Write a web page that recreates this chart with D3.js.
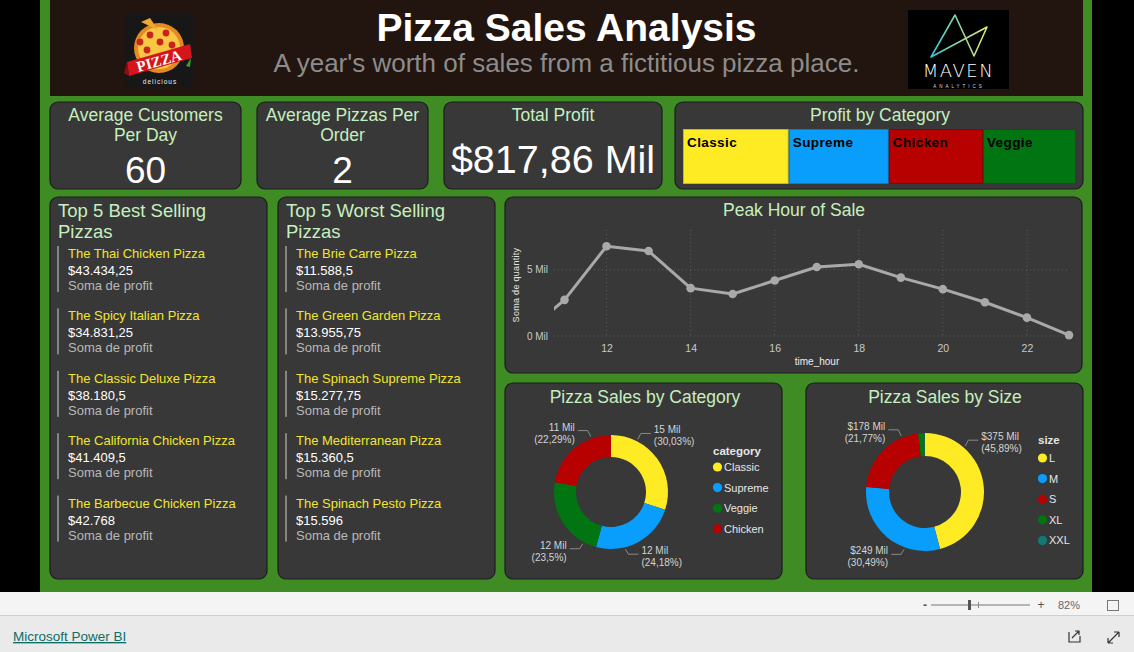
<!DOCTYPE html>
<html><head><meta charset="utf-8">
<script src="https://cdn.jsdelivr.net/npm/d3@7"></script>
<style>
html,body{margin:0;padding:0;background:#000;overflow:hidden;}
svg{display:block;font-family:"Liberation Sans",Arial,sans-serif;}
</style></head><body>
<svg id="c" width="1134" height="652"></svg>
<script>
// ---------------- DATA ----------------
const reportTitle = "Pizza Sales Analysis";
const reportSubtitle = "A year's worth of sales from a fictitious pizza place.";
const kpiTitles = [["Average Customers", "Per Day"], ["Average Pizzas Per", "Order"], ["Total Profit"]];
const kpiValues = ["60", "2", "$817,86 Mil"];
const profitCategories = ["Classic", "Supreme", "Chicken", "Veggie"];
const profitValues = [220053.1, 208197, 195919.5, 193690.45];
const bestPizzas = ["The Thai Chicken Pizza", "The Spicy Italian Pizza", "The Classic Deluxe Pizza", "The California Chicken Pizza", "The Barbecue Chicken Pizza"];
const bestProfit = [43434.25, 34831.25, 38180.5, 41409.5, 42768];
const worstPizzas = ["The Brie Carre Pizza", "The Green Garden Pizza", "The Spinach Supreme Pizza", "The Mediterranean Pizza", "The Spinach Pesto Pizza"];
const worstProfit = [11588.5, 13955.75, 15277.75, 15360.5, 15596];
const hours = [9, 10, 11, 12, 13, 14, 15, 16, 17, 18, 19, 20, 21, 22, 23];
const hourQuantity = [4, 18, 2728, 6776, 6413, 3613, 3170, 4185, 5211, 5417, 4406, 3534, 2545, 1386, 68];
const hourTicks = [12, 14, 16, 18, 20, 22];
const quantityTicks = [0, 5000];
const salesCategories = ["Classic", "Supreme", "Veggie", "Chicken"];
const salesCategoryQuantity = [14888, 11987, 11649, 11050];
const sizes = ["L", "M", "S", "XL", "XXL"];
const sizeRevenue = [375318.7, 249382.25, 178076.5, 14076, 1006.6];

// ---------------- STYLE ----------------
const COL = {Classic:"#FFEB24", Supreme:"#099EFB", Chicken:"#B70000", Veggie:"#007512",
             L:"#FFEB24", M:"#099EFB", S:"#B70000", XL:"#007512", XXL:"#127A72"};
const LG = "#c6efbf", PANEL = "#383838", PSTROKE = "#1d1d1d";
const loc = d3.formatLocale({decimal:",", thousands:".", grouping:[3], currency:["$",""]});
const fmtMoney = loc.format("$,.2~f");
const fmtPct = v => loc.format(".2~f")(v) + "%";

const svg = d3.select("#c");
svg.append("rect").attr("width",1134).attr("height",652).attr("fill","#000");
svg.append("rect").attr("x",40).attr("y",0).attr("width",1052).attr("height",592).attr("fill","#3f8b24");

function panel(x,y,w,h){
  svg.append("rect").attr("x",x).attr("y",y).attr("width",w).attr("height",h)
    .attr("rx",8).attr("fill",PANEL).attr("stroke",PSTROKE).attr("stroke-width",1.2);
}
function txt(x,y,s,size,fill,anchor,weight){
  return svg.append("text").attr("x",x).attr("y",y).text(s).attr("font-size",size)
    .attr("fill",fill).attr("text-anchor",anchor||"start").attr("font-weight",weight||"normal");
}

// ---------------- HEADER ----------------
svg.append("rect").attr("x",50).attr("y",0).attr("width",1033).attr("height",96).attr("fill","#22150f");
txt(566.5,41,reportTitle,39,"#fff","middle","bold");
txt(566.5,72,reportSubtitle,26,"#8c8c8c","middle");

// pizza logo (decorative)
const lg = svg.append("g");
lg.append("rect").attr("x",125).attr("y",14).attr("width",68).attr("height",73).attr("fill","#171717");
lg.append("circle").attr("cx",159).attr("cy",48).attr("r",25).attr("fill","#e58a22");
lg.append("circle").attr("cx",159).attr("cy",48).attr("r",21).attr("fill","#f8c844");
[[150,35],[166,33],[172,45],[147,50],[160,42],[168,58],[152,60],[140,42]].forEach(p=>
  lg.append("circle").attr("cx",p[0]).attr("cy",p[1]).attr("r",3.4).attr("fill","#c8241c"));
lg.append("path").attr("d","M141,22 L150,18 L158,30 Z").attr("fill","#f0a830");
lg.append("path").attr("d","M131,70 L137,64 L139,71 Z M186,66 L191,58 L190,67 Z").attr("fill","#3aa335");
lg.append("polygon").attr("points","127,62 190,44 192,58 129,76").attr("fill","#d5151c");
lg.append("polygon").attr("points","127,62 129,76 124,73").attr("fill","#8e0d10");
lg.append("text").attr("x",159).attr("y",66).attr("text-anchor","middle").attr("font-size",15)
  .attr("font-weight","bold").attr("font-family","'Liberation Serif',serif").attr("fill","#fff")
  .attr("transform","rotate(-16,159,61)").text("PIZZA");
lg.append("text").attr("x",160).attr("y",84).attr("text-anchor","middle").attr("font-size",6.5)
  .attr("fill","#eee").attr("letter-spacing",1).text("delicious");

// maven logo (decorative)
const mv = svg.append("g");
mv.append("rect").attr("x",908).attr("y",10).attr("width",101).attr("height",79).attr("fill","#000");
const gr = svg.append("defs").append("linearGradient").attr("id","mvg").attr("x1","0").attr("x2","1");
gr.append("stop").attr("offset","0").attr("stop-color","#35c6d8");
gr.append("stop").attr("offset","1").attr("stop-color","#e5e86c");
mv.append("path").attr("d","M931,57 L955,15 L974,56 L987,27 Z").attr("fill","none")
  .attr("stroke","url(#mvg)").attr("stroke-width",1.6).attr("stroke-linejoin","round");
mv.append("text").attr("x",958.5).attr("y",77).attr("text-anchor","middle").attr("font-size",18)
  .attr("font-family","'DejaVu Sans',sans-serif").attr("font-weight",200).attr("fill","#fff")
  .attr("letter-spacing",1.5).text("MAVEN");
mv.append("text").attr("x",959).attr("y",87.5).attr("text-anchor","middle").attr("font-size",4.5)
  .attr("fill","#ddd").attr("letter-spacing",3).text("ANALYTICS");

// ---------------- KPI CARDS ----------------
const kpiBoxes = [[50,102,191,87],[257,102,171,87],[444,102,218,87]];
kpiBoxes.forEach((b,i)=>{
  panel(b[0],b[1],b[2],b[3]);
  const cx = b[0]+b[2]/2;
  kpiTitles[i].forEach((t,j)=> txt(cx,121+j*20,t,17.5,LG,"middle"));
  if (i<2) txt(cx,183,kpiValues[i],37,"#fff","middle");
  else txt(cx,173,kpiValues[i],39.5,"#fff","middle");
});

// ---------------- PROFIT BY CATEGORY (treemap) ----------------
panel(675,102,408,87);
txt(880,121,"Profit by Category",17.5,LG,"middle");
const tmRoot = d3.hierarchy({children: profitCategories.map((c,i)=>({name:c, value:profitValues[i]}))})
  .sum(d=>d.value||0).sort((a,b)=>b.value-a.value);
d3.treemap().tile(d3.treemapDice).size([393,55]).padding(0)(tmRoot);
const tm = svg.append("g").attr("transform","translate(683,129)");
tm.selectAll("rect").data(tmRoot.leaves()).join("rect")
  .attr("x",d=>d.x0+0.5).attr("y",d=>d.y0+0.5).attr("width",d=>d.x1-d.x0-1).attr("height",d=>d.y1-d.y0-1)
  .attr("fill",d=>COL[d.data.name]).attr("stroke",d=>d3.color(COL[d.data.name]).darker(0.7)).attr("stroke-width",1);
tm.selectAll("text").data(tmRoot.leaves()).join("text")
  .attr("x",d=>d.x0+4).attr("y",d=>d.y0+18).attr("font-size",13.5).attr("font-weight","bold")
  .attr("letter-spacing",0.4).attr("fill","#000").text(d=>d.data.name);

// ---------------- TOP 5 LISTS ----------------
function topList(px, title, names, vals){
  panel(px,197,217,382);
  txt(px+8,217,title[0],18.5,LG);
  txt(px+8,238,title[1],18.5,LG);
  names.forEach((n,i)=>{
    const by = 258 + i*62.4;
    svg.append("rect").attr("x",px+7).attr("y",by-12).attr("width",2).attr("height",46).attr("fill","#858585");
    txt(px+18,by,n,13,"#f1e62c");
    txt(px+18,by+17,fmtMoney(vals[i]),13,"#fff");
    txt(px+18,by+32,"Soma de profit",13,"#b9b9b9");
  });
}
topList(50,["Top 5 Best Selling","Pizzas"],bestPizzas,bestProfit);
topList(278,["Top 5 Worst Selling","Pizzas"],worstPizzas,worstProfit);

// ---------------- PEAK HOUR LINE ----------------
panel(505,197,577,176);
txt(794,216,"Peak Hour of Sale",17.5,LG,"middle");
const x = d3.scaleLinear().domain([10.75,23]).range([554,1069]);
const y = d3.scaleLinear().domain([0,8000]).range([336,230]);
const grid = svg.append("g");
grid.selectAll(".vg").data(hourTicks).join("line").attr("x1",d=>x(d)).attr("x2",d=>x(d))
  .attr("y1",230).attr("y2",336).attr("stroke","#5c5c5c").attr("stroke-dasharray","1,3");
grid.selectAll(".hg").data(quantityTicks).join("line").attr("x1",554).attr("x2",1069)
  .attr("y1",d=>y(d)).attr("y2",d=>y(d)).attr("stroke","#5c5c5c").attr("stroke-dasharray","1,3");
const yAx = svg.append("g").attr("transform","translate(554,0)")
  .call(d3.axisLeft(y).tickValues(quantityTicks).tickSize(0).tickPadding(6).tickFormat(v=>(v/1000)+" Mil"));
yAx.select(".domain").remove();
yAx.selectAll("text").attr("fill","#c9c9c9").attr("font-size",10).attr("font-family",null);
const xAx = svg.append("g").attr("transform","translate(0,336)")
  .call(d3.axisBottom(x).tickValues(hourTicks).tickSize(0).tickPadding(9));
xAx.select(".domain").remove();
xAx.selectAll("text").attr("fill","#c9c9c9").attr("font-size",10.5).attr("font-family",null);
txt(817,365,"time_hour",10,"#eee","middle");
svg.append("text").attr("transform","translate(519,285) rotate(-90)").attr("text-anchor","middle")
  .attr("font-size",9).attr("fill","#e6e6e6").attr("letter-spacing",0.3).text("Soma de quantity");
svg.append("clipPath").attr("id","plotclip").append("rect").attr("x",554).attr("y",220).attr("width",526).attr("height",130);
const hd = hours.map((h,i)=>({h:h,q:hourQuantity[i]}));
const pg = svg.append("g").attr("clip-path","url(#plotclip)");
pg.append("path").datum(hd).attr("d",d3.line().x(d=>x(d.h)).y(d=>y(d.q)))
  .attr("fill","none").attr("stroke","#a9a9a9").attr("stroke-width",3).attr("stroke-linejoin","round");
pg.selectAll("circle").data(hd).join("circle").attr("cx",d=>x(d.h)).attr("cy",d=>y(d.q)).attr("r",4.3).attr("fill","#a9a9a9");

// ---------------- DONUTS ----------------
function donut(o){
  panel(o.px,383,277,196);
  txt(o.px+o.tx,403,o.title,17.5,LG,"middle");
  const total = d3.sum(o.values);
  const arcsData = d3.pie().sort(null).value(d=>d.v)(o.names.map((n,i)=>({n:n,v:o.values[i]})));
  const g = svg.append("g").attr("transform",`translate(${o.cx},${o.cy})`);
  g.selectAll("path").data(arcsData).join("path")
    .attr("d",d3.arc().innerRadius(o.r).outerRadius(o.R)).attr("fill",d=>COL[d.data.n]);
  arcsData.forEach(a=>{
    const pct = a.value/total*100;
    if (pct < 5) return;
    const mid = (a.startAngle+a.endAngle)/2;
    const vert = (mid > Math.PI/2 && mid < 3*Math.PI/2) ? Math.PI : (mid >= 3*Math.PI/2 ? 2*Math.PI : 0);
    const ang = vert + (mid-vert)*0.5;
    const top = Math.cos(ang) > 0, right = Math.sin(ang) > 0;
    const ax = o.cx + (o.R+2)*Math.sin(ang), ay = o.cy - (o.R+2)*Math.cos(ang);
    const ly = ay + (top ? -6 : 5);
    const ex = ax + (right ? 3 : -3), hx = ex + (right ? 10 : -10);
    svg.append("path").attr("d",`M${ax},${ay}L${ex},${ly}L${hx},${ly}`).attr("fill","none")
      .attr("stroke","#8a8a8a").attr("stroke-width",1);
    const tx = hx + (right ? 3 : -3), anc = right ? "start" : "end";
    txt(tx,ly,o.fmt(a.value),10,"#d4d4d4",anc);
    txt(tx,ly+12,"("+fmtPct(pct)+")",10,"#d4d4d4",anc);
  });
  txt(o.lx,o.ly,o.legendTitle,11.5,"#e6e6e6","start","bold");
  o.names.forEach((n,i)=>{
    const yy = o.ly + o.lo + i*20.6;
    svg.append("circle").attr("cx",o.lx+4.5).attr("cy",yy).attr("r",4.6).attr("fill",COL[n]);
    txt(o.lx+11,yy+4,n,11,"#e6e6e6");
  });
}
donut({px:505, tx:140, title:"Pizza Sales by Category", cx:611, cy:492, R:57, r:35,
  names:salesCategories, values:salesCategoryQuantity, fmt:v=>Math.round(v/1000)+" Mil",
  legendTitle:"category", lx:713, ly:455, lo:12});
donut({px:806, tx:139, title:"Pizza Sales by Size", cx:925, cy:492, R:59, r:36,
  names:sizes, values:sizeRevenue, fmt:v=>"$"+Math.round(v/1000)+" Mil",
  legendTitle:"size", lx:1038, ly:444, lo:14});

// ---------------- FOOTER ----------------
svg.append("rect").attr("x",0).attr("y",592).attr("width",1134).attr("height",24).attr("fill","#f4f4f4");
svg.append("rect").attr("x",0).attr("y",616).attr("width",1134).attr("height",36).attr("fill","#eaeaea");
svg.append("line").attr("x1",0).attr("x2",1134).attr("y1",615.5).attr("y2",615.5).attr("stroke","#cfcfcf");
txt(13,641,"Microsoft Power BI",13.5,"#0f6d66").attr("text-decoration","underline");
txt(925,609,"-",12,"#555","middle","bold");
svg.append("line").attr("x1",931).attr("x2",1030).attr("y1",605).attr("y2",605).attr("stroke","#777");
svg.append("rect").attr("x",968).attr("y",600).attr("width",3).attr("height",10).attr("fill","#555");
svg.append("line").attr("x1",978.5).attr("x2",978.5).attr("y1",602).attr("y2",608).attr("stroke","#888");
txt(1041,609,"+",12,"#555","middle");
txt(1058,609,"82%",11,"#666");
svg.append("rect").attr("x",1107.5).attr("y",600.5).attr("width",11).attr("height",10).attr("fill","none").attr("stroke","#777");
svg.append("path").attr("d","M1069,632 L1069,642 L1080,642 L1080,636 M1072,638 L1079,631 M1075,631 L1079,631 L1079,635")
  .attr("fill","none").attr("stroke","#333").attr("stroke-width",1.2);
svg.append("path").attr("d","M1108,643 L1119,632 M1108,643 L1108,638 M1108,643 L1113,643 M1119,632 L1114,632 M1119,632 L1119,637")
  .attr("fill","none").attr("stroke","#333").attr("stroke-width",1.2);
</script>
</body></html>
